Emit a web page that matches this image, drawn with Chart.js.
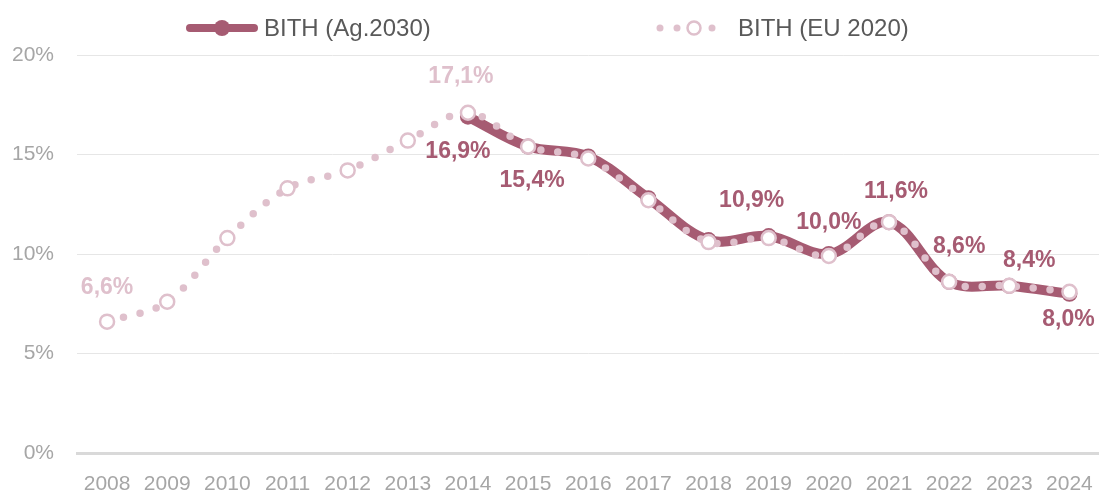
<!DOCTYPE html>
<html>
<head>
<meta charset="utf-8">
<script src="https://cdn.jsdelivr.net/npm/chart.js@4"></script>
<style>
  html, body { margin: 0; padding: 0; background: #fff; overflow: hidden; width: 1099px; height: 492px; }
  canvas { display: block; }
</style>
</head>
<body>
<canvas id="chart" width="1109" height="492"></canvas>
<script>
const years = ["2008", "2009", "2010", "2011", "2012", "2013", "2014", "2015", "2016",
  "2017", "2018", "2019", "2020", "2021", "2022", "2023", "2024"];
const bithAg2030 = [null, null, null, null, null, null, 16.9, 15.4, 14.9,
  12.8, 10.7, 10.9, 10.0, 11.6, 8.6, 8.4, 8.0];
const bithEu2020 = [6.6, 7.6, 10.8, 13.3, 14.2, 15.7, 17.1, 15.4, 14.8,
  12.7, 10.6, 10.8, 9.9, 11.6, 8.6, 8.4, 8.1];
const yTicks = [0, 5, 10, 15, 20];
const seriesNames = ["BITH (Ag.2030)", "BITH (EU 2020)"];

const colors = {
  dark: "#a65b72",
  light: "#dfc0cc",
  text: "#595959",
  tick: "#a6a6a6",
  grid: "#e6e6e6",
  axis: "#d9d9d9",
};
const FONT = "'Liberation Sans', Arial, sans-serif";

// which points get a value label, and where it sits relative to the point
const labelSpots = {
  0: { 0: [0, -34], 6: [-7, -36] },
  1: { 6: [-10, 35], 7: [4, 34], 11: [-17, -35], 12: [0, -31], 13: [7, -31],
       14: [10, -35], 15: [20, -25], 16: [-1, 26] },
};

const fmt = (v) => v.toFixed(1).replace(".", ",") + "%";

const overlay = {
  id: "overlay",
  afterDatasetsDraw(chart) {
    const ctx = chart.ctx;
    ctx.save();
    ctx.font = `bold 23px ${FONT}`;
    ctx.textAlign = "center";
    ctx.textBaseline = "middle";
    const specs = [
      { ds: 1, color: colors.light, spots: labelSpots[0] },
      { ds: 0, color: colors.dark, spots: labelSpots[1] },
    ];
    specs.forEach(({ ds, color, spots }) => {
      const meta = chart.getDatasetMeta(ds);
      const data = chart.data.datasets[ds].data;
      Object.entries(spots).forEach(([i, [dx, dy]]) => {
        const pt = meta.data[i];
        if (!pt || data[i] == null) return;
        ctx.fillStyle = color;
        ctx.fillText(fmt(data[i]), pt.x + dx, pt.y + dy);
      });
    });

    // legend
    const ly = 28;
    ctx.lineCap = "round";
    ctx.strokeStyle = colors.dark;
    ctx.lineWidth = 8;
    ctx.beginPath();
    ctx.moveTo(190, ly);
    ctx.lineTo(254, ly);
    ctx.stroke();
    ctx.fillStyle = colors.dark;
    ctx.beginPath();
    ctx.arc(222, ly, 8, 0, Math.PI * 2);
    ctx.fill();

    ctx.fillStyle = colors.light;
    [660, 677, 712].forEach((x) => {
      ctx.beginPath();
      ctx.arc(x, ly, 3.5, 0, Math.PI * 2);
      ctx.fill();
    });
    ctx.beginPath();
    ctx.arc(694, ly, 6.5, 0, Math.PI * 2);
    ctx.fillStyle = "#fff";
    ctx.fill();
    ctx.lineWidth = 2.5;
    ctx.strokeStyle = colors.light;
    ctx.stroke();

    ctx.font = `24px ${FONT}`;
    ctx.textAlign = "left";
    ctx.fillStyle = colors.text;
    ctx.fillText(seriesNames[0], 264, ly + 1);
    ctx.fillText(seriesNames[1], 738, ly + 1);
    ctx.restore();
  },
};

new Chart(document.querySelector("#chart"), {
  type: "line",
  data: {
    labels: years,
    datasets: [
      {
        label: seriesNames[0],
        data: bithAg2030,
        order: 2,
        borderColor: colors.dark,
        backgroundColor: colors.dark,
        borderWidth: 10,
        borderCapStyle: "round",
        borderJoinStyle: "round",
        tension: 0.35,
        pointRadius: 8,
        pointBackgroundColor: colors.dark,
        pointBorderWidth: 0,
      },
      {
        label: seriesNames[1],
        data: bithEu2020,
        order: 1,
        borderColor: colors.light,
        borderWidth: 7.5,
        borderCapStyle: "round",
        borderDash: [0, 17],
        tension: 0.35,
        pointRadius: 7,
        pointBackgroundColor: "#fff",
        pointBorderColor: colors.light,
        pointBorderWidth: 2.5,
      },
    ],
  },
  options: {
    responsive: false,
    animation: false,
    events: [],
    layout: { padding: { top: 55, right: 0, left: 0, bottom: 0 } },
    plugins: { legend: { display: false }, tooltip: { enabled: false } },
    scales: {
      x: {
        offset: true,
        grid: { display: false },
        border: { color: colors.axis, width: 3 },
        ticks: { color: colors.tick, font: { family: FONT, size: 21 }, padding: 11, maxRotation: 0, autoSkip: false },
        afterFit(scale) { scale.height = 39; },
      },
      y: {
        min: 0,
        max: 20,
        afterBuildTicks(scale) { scale.ticks = yTicks.map((v) => ({ value: v })); },
        grid: { color: colors.grid, lineWidth: 1, drawTicks: false },
        border: { display: false },
        ticks: {
          color: colors.tick,
          font: { family: FONT, size: 21 },
          padding: 23,
          callback: (v) => v + "%",
        },
        afterFit(scale) { scale.width = 77; },
      },
    },
  },
  plugins: [overlay],
});
</script>
</body>
</html>
